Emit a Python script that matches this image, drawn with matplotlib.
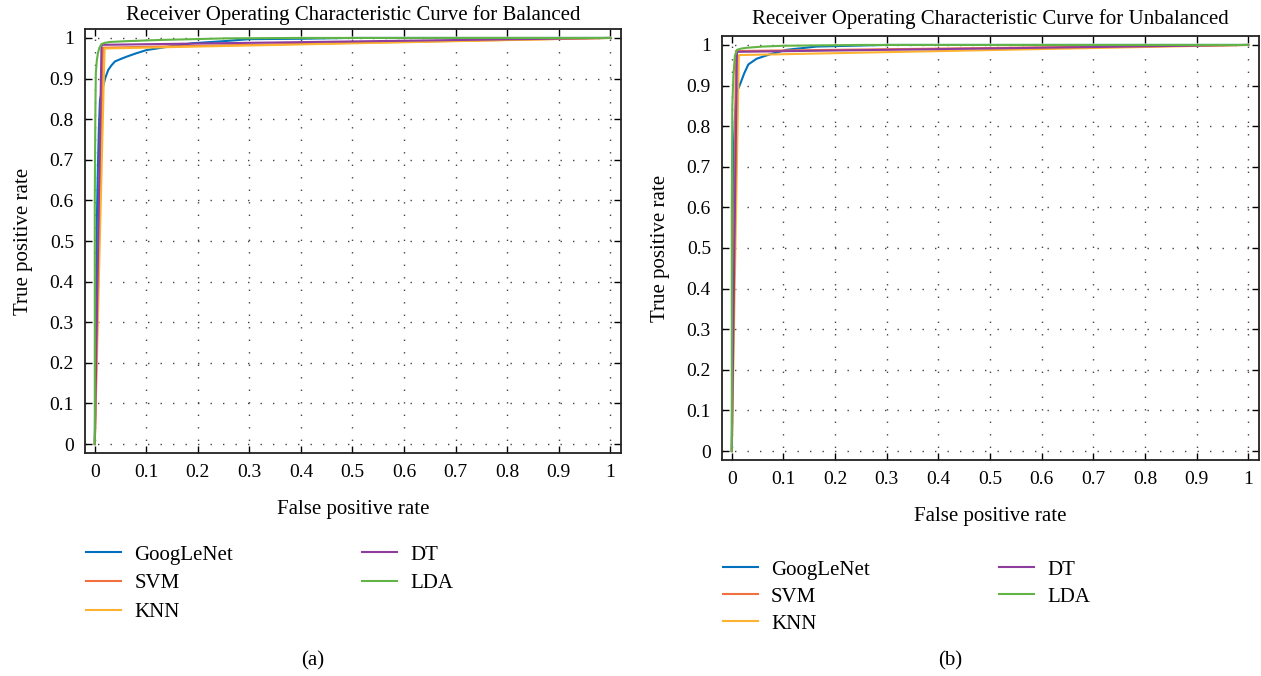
import matplotlib
matplotlib.use("Agg")
import matplotlib.pyplot as plt
import numpy as np

plt.rcParams['font.family'] = ['Liberation Serif', 'DejaVu Serif']

models = ["GoogLeNet", "SVM", "KNN", "DT", "LDA"]
colors = ["#0072BD", "#F0703F", "#FDB32F", "#8E3C9E", "#62B446"]

# Balanced ROC points (FPR, TPR)
bal_googlenet_fpr = [0.0, 0.004, 0.006, 0.008, 0.010, 0.014, 0.020, 0.026, 0.032, 0.039, 0.050, 0.062, 0.080, 0.100, 0.140, 0.190, 0.250, 0.300, 0.400, 0.500, 1.0]
bal_googlenet_tpr = [0.0, 0.55, 0.68, 0.78, 0.847, 0.87, 0.90, 0.921, 0.932, 0.942, 0.948, 0.954, 0.962, 0.970, 0.978, 0.987, 0.992, 0.997, 0.998, 1.0, 1.0]
bal_svm_fpr = [0.0, 0.016, 1.0]
bal_svm_tpr = [0.0, 0.976, 1.0]
bal_knn_fpr = [0.0, 0.019, 1.0]
bal_knn_tpr = [0.0, 0.974, 1.0]
bal_dt_fpr = [0.0, 0.013, 1.0]
bal_dt_tpr = [0.0, 0.983, 1.0]
bal_lda_fpr = [0.0, 0.0, 0.001, 0.002, 0.004, 0.006, 0.009, 0.013, 0.020, 0.029, 0.060, 0.126, 0.256, 0.40, 1.0]
bal_lda_tpr = [0.0, 0.60, 0.80, 0.913, 0.945, 0.962, 0.976, 0.985, 0.988, 0.990, 0.992, 0.995, 0.999, 1.0, 1.0]

# Unbalanced ROC points (FPR, TPR)
unb_googlenet_fpr = [0.0, 0.002, 0.004, 0.006, 0.009, 0.016, 0.024, 0.032, 0.048, 0.074, 0.106, 0.164, 0.230, 0.300, 1.0]
unb_googlenet_tpr = [0.0, 0.60, 0.75, 0.82, 0.882, 0.903, 0.93, 0.952, 0.966, 0.977, 0.988, 0.996, 0.998, 1.0, 1.0]
unb_svm_fpr = [0.0, 0.008, 1.0]
unb_svm_tpr = [0.0, 0.985, 1.0]
unb_knn_fpr = [0.0, 0.0136, 1.0]
unb_knn_tpr = [0.0, 0.975, 1.0]
unb_dt_fpr = [0.0, 0.010, 1.0]
unb_dt_tpr = [0.0, 0.983, 1.0]
unb_lda_fpr = [0.0, 0.0, 0.001, 0.003, 0.006, 0.010, 0.018, 0.029, 0.060, 0.100, 0.250, 1.0]
unb_lda_tpr = [0.0, 0.60, 0.85, 0.923, 0.973, 0.988, 0.991, 0.993, 0.996, 0.998, 1.0, 1.0]

ticks = [0, 0.1, 0.2, 0.3, 0.4, 0.5, 0.6, 0.7, 0.8, 0.9, 1]
tick_labels = ["0", "0.1", "0.2", "0.3", "0.4", "0.5", "0.6", "0.7", "0.8", "0.9", "1"]

balanced = [(bal_googlenet_fpr, bal_googlenet_tpr), (bal_svm_fpr, bal_svm_tpr),
            (bal_knn_fpr, bal_knn_tpr), (bal_dt_fpr, bal_dt_tpr), (bal_lda_fpr, bal_lda_tpr)]
unbalanced = [(unb_googlenet_fpr, unb_googlenet_tpr), (unb_svm_fpr, unb_svm_tpr),
              (unb_knn_fpr, unb_knn_tpr), (unb_dt_fpr, unb_dt_tpr), (unb_lda_fpr, unb_lda_tpr)]

fig = plt.figure(figsize=(12.61, 6.76), dpi=100)

W, H = 1261, 676

def make_axes(l, r, t, b):
    return fig.add_axes([l / W, (H - b) / H, (r - l) / W, (b - t) / H])

panels = [
    dict(rect=(85, 621, 29, 453), data=balanced, title="Receiver Operating Characteristic Curve for Balanced",
         tpad=6.5, leg=(86, 545), lsp=0.44, cap=(313, 661), capt="(a)"),
    dict(rect=(722, 1259, 36, 460), data=unbalanced, title="Receiver Operating Characteristic Curve for Unbalanced",
         tpad=8.5, leg=(723, 560), lsp=0.36, cap=(950, 661), capt="(b)"),
]

for p in panels:
    ax = make_axes(*p["rect"])
    draw_order = [0, 2, 1, 3, 4]
    handles = [None] * 5
    for i in draw_order:
        fpr, tpr = p["data"][i]
        ln, = ax.plot(fpr, tpr, color=colors[i], lw=1.5, label=models[i], zorder=3 + i)
        handles[i] = ln
    ax.set_xlim(-0.019, 1.021)
    ax.set_ylim(-0.022, 1.022)
    ax.set_xticks(ticks)
    ax.set_xticklabels(tick_labels)
    ax.set_yticks(ticks)
    ax.set_yticklabels(tick_labels)
    ax.tick_params(direction='in', length=5, width=1.0, top=True, right=True, labelsize=14, pad=8)
    ax.grid(True, linestyle=(0, (1, 8)), color='#444444', linewidth=1.0)
    for s in ax.spines.values():
        s.set_linewidth(1.3)
        s.set_color('#222222')
    ax.set_title(p["title"], fontsize=15, pad=p["tpad"])
    ax.set_xlabel("False positive rate", fontsize=15, labelpad=13.5)
    ax.set_ylabel("True positive rate", fontsize=15, labelpad=12)
    lx, ly = p["leg"]
    ax.legend(handles=handles, loc='upper left', bbox_to_anchor=(lx / W, 1 - ly / H),
              bbox_transform=fig.transFigure, ncol=2, frameon=False, fontsize=15,
              handlelength=1.68, handletextpad=0.63, columnspacing=6.2, labelspacing=p["lsp"],
              borderaxespad=0, borderpad=0)
    fig.text(p["cap"][0] / W, 1 - p["cap"][1] / H, p["capt"], ha='center', va='center', fontsize=15)

fig.savefig("out.png", dpi=100)
